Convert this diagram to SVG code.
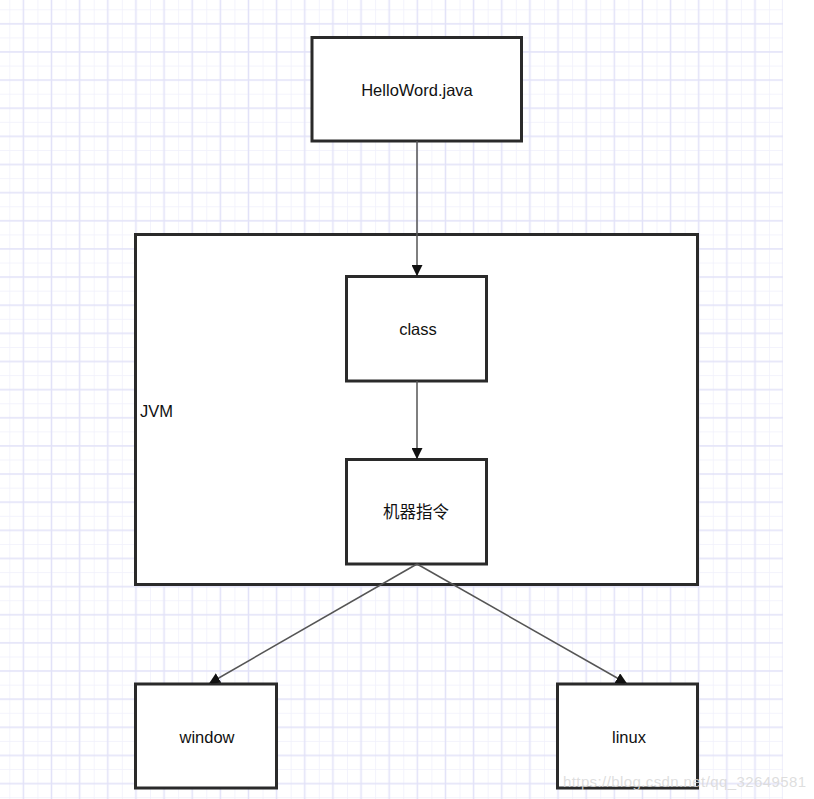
<svg xmlns="http://www.w3.org/2000/svg" width="814" height="799" viewBox="0 0 814 799">
  <defs>
    <pattern id="grid" patternUnits="userSpaceOnUse" x="9.3" y="9.3" width="28.14" height="28.14">
      <line x1="0" y1="0" x2="0" y2="28.14" stroke="#f0f0fb" stroke-width="1.5"/>
      <line x1="0" y1="0" x2="28.14" y2="0" stroke="#f0f0fb" stroke-width="1.5"/>
      <line x1="14.07" y1="0" x2="14.07" y2="28.14" stroke="#e2e2f8" stroke-width="1.5"/>
      <line x1="0" y1="14.5" x2="28.14" y2="14.5" stroke="#e2e2f8" stroke-width="1.5"/>
    </pattern>
    <marker id="arrow" viewBox="0 0 10 10" refX="9" refY="5" markerWidth="11" markerHeight="11" markerUnits="userSpaceOnUse" orient="auto">
      <path d="M0,0 L10,5 L0,10 Z" fill="#111"/>
    </marker>
  </defs>
  <style>
    .box { fill: #ffffff; stroke: #2a2a2a; stroke-width: 3; }
    .lbl { font-family: "Liberation Sans", Arial, "Noto Sans CJK SC", sans-serif; font-size: 16.5px; fill: #111; text-anchor: middle; }
    .conn { stroke: #555; stroke-width: 1.5; fill: none; }
  </style>
  <rect x="0" y="0" width="814" height="799" fill="#ffffff"/>
  <rect x="0" y="0" width="783" height="799" fill="url(#grid)"/>

  <g id="jvm">
    <rect class="box" x="135.5" y="234.5" width="562" height="350"/>
    <text class="lbl" x="140" y="417" style="text-anchor:start">JVM</text>
  </g>
  <g id="hello">
    <rect class="box" x="312" y="37.5" width="209.5" height="103.5"/>
    <text class="lbl" x="417" y="96">HelloWord.java</text>
  </g>
  <g id="class">
    <rect class="box" x="346.5" y="276.5" width="140" height="104.5"/>
    <text class="lbl" x="418" y="335">class</text>
  </g>
  <g id="machine">
    <rect class="box" x="346.5" y="459.5" width="140" height="104.5"/>
    <text class="lbl" x="416" y="518">机器指令</text>
  </g>
  <g id="window">
    <rect class="box" x="135.5" y="684" width="141" height="104"/>
    <text class="lbl" x="207" y="743">window</text>
  </g>
  <g id="linux">
    <rect class="box" x="557.5" y="684" width="140" height="104"/>
    <text class="lbl" x="629" y="743">linux</text>
  </g>

  <g id="connectors">
    <line class="conn" x1="417" y1="141" x2="417" y2="275" marker-end="url(#arrow)"/>
    <line class="conn" x1="417" y1="381" x2="417" y2="458" marker-end="url(#arrow)"/>
    <line class="conn" x1="417" y1="564" x2="210" y2="683" marker-end="url(#arrow)"/>
    <line class="conn" x1="417" y1="564" x2="626" y2="683" marker-end="url(#arrow)"/>
  </g>

  <text x="563" y="787" font-family="'Liberation Sans', Arial, sans-serif" font-size="15" fill="#d8d8d8" fill-opacity="0.85" textLength="243">https://blog.csdn.net/qq_32649581</text>
</svg>
